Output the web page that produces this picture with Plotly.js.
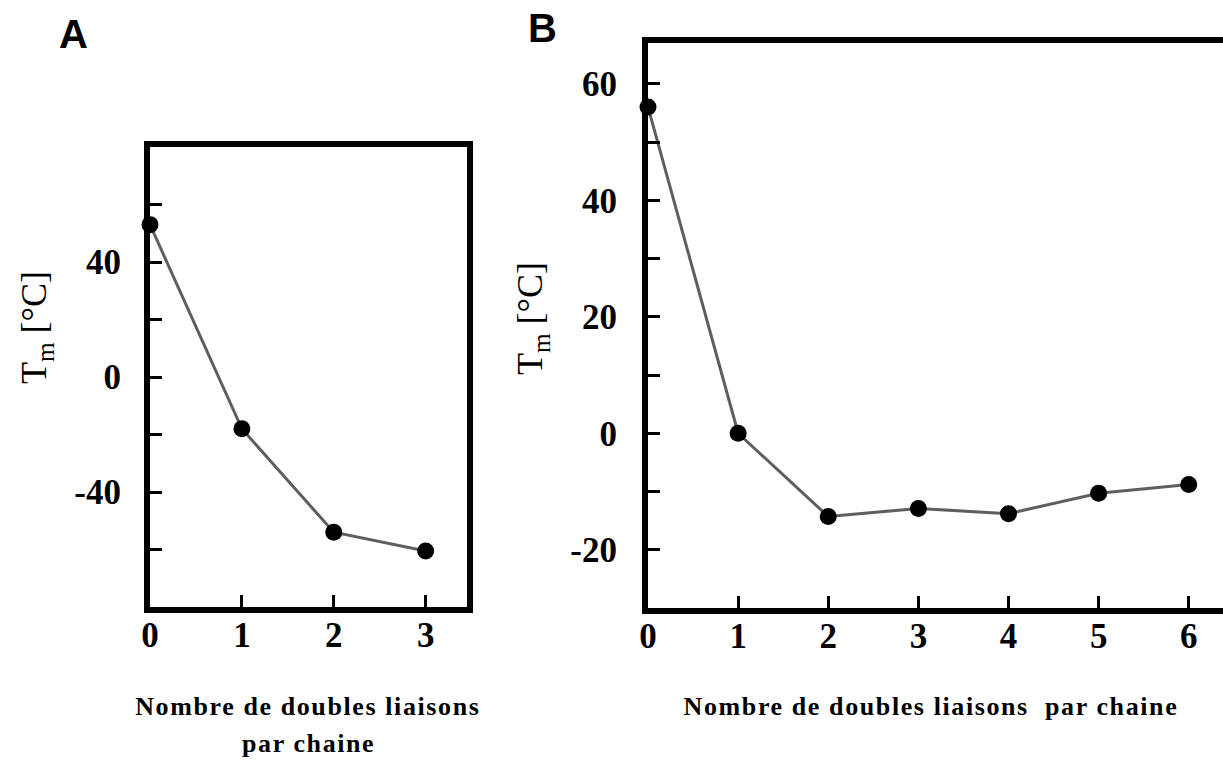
<!DOCTYPE html>
<html>
<head>
<meta charset="utf-8">
<script src="https://cdn.plot.ly/plotly-3.0.1.min.js"></script>
<style>
html,body{margin:0;padding:0;background:#fff;}
#chart{width:1223px;height:760px;}
g.annotation[data-index="2"] text, g.annotation[data-index="3"] text, g.annotation[data-index="6"] text { letter-spacing: 1.6px; }
</style>
</head>
<body>
<div id="chart"></div>
<script>
// Panel A data
const xA = [0, 1, 2, 3];
const yA = [53, -18, -54, -60.5];
// Panel B data
const xB = [0, 1, 2, 3, 4, 5, 6];
const yB = [56, 0, -14.3, -12.9, -13.8, -10.3, -8.8];

// Tick labels
const yTickValsA = [-40, 0, 40];
const yTickTextA = ['-40', '0', '40'];
const yTickValsB = [-20, 0, 20, 40, 60];
const yTickTextB = ['-20', '0', '20', '40', '60'];
const xTickValsA = [0, 1, 2, 3];
const xTickValsB = [0, 1, 2, 3, 4, 5, 6];

const xTitle1 = 'Nombre de doubles liaisons';
const xTitle2 = 'par chaine';
const xTitleB = 'Nombre de doubles liaisons  par chaine';
const yTitle = 'T<sub>m</sub> [°C]';

const W = 1223, H = 760;
const px = v => v / W;
const py = v => 1 - v / H;

const serif = 'Liberation Serif, Times New Roman, serif';
const tickFont = {family: serif, size: 35, color: '#000', weight: 'bold'};

const lineStyle = {color: '#5e5e5e', width: 3};
const markerStyle = {color: '#000', size: 17};

const traces = [
  {x: xA, y: yA, xaxis: 'x', yaxis: 'y', mode: 'lines+markers', line: lineStyle, marker: markerStyle, cliponaxis: false, showlegend: false, hoverinfo: 'none'},
  {x: xB, y: yB, xaxis: 'x2', yaxis: 'y2', mode: 'lines+markers', line: lineStyle, marker: markerStyle, cliponaxis: false, showlegend: false, hoverinfo: 'none'}
];

const axisCommon = {
  showline: true, linecolor: '#000', linewidth: 6,
  showgrid: false, zeroline: false,
  ticks: 'inside', ticklen: 12, tickwidth: 3, tickcolor: '#000',
  tickfont: tickFont, fixedrange: true
};
const minorY = {ticks: 'inside', ticklen: 12, tickwidth: 3, tickcolor: '#000', showgrid: false};

const layout = {
  width: W, height: H,
  margin: {l: 0, r: 0, t: 0, b: 0},
  paper_bgcolor: '#fff', plot_bgcolor: '#fff',
  showlegend: false,
  xaxis: Object.assign({}, axisCommon, {
    domain: [px(150), px(467)], range: [0, 3.45],
    tickmode: 'array', tickvals: xTickValsA, ticktext: xTickValsA.map(String),
    mirror: true, anchor: 'y', ticklabelstandoff: -8
  }),
  yaxis: Object.assign({}, axisCommon, {
    domain: [py(607), py(147)], range: [-80, 80],
    tickmode: 'array', tickvals: yTickValsA, ticktext: yTickTextA,
    minor: Object.assign({tick0: 0, dtick: 20}, minorY),
    mirror: true, anchor: 'x', ticklabelstandoff: 16
  }),
  xaxis2: Object.assign({}, axisCommon, {
    domain: [px(648), 1], range: [0, 6.38],
    tickmode: 'array', tickvals: xTickValsB, ticktext: xTickValsB.map(String),
    mirror: true, anchor: 'y2', ticklabelstandoff: -8
  }),
  yaxis2: Object.assign({}, axisCommon, {
    domain: [py(608), py(43)], range: [-30, 67],
    tickmode: 'array', tickvals: yTickValsB, ticktext: yTickTextB,
    minor: Object.assign({tick0: 0, dtick: 10}, minorY),
    mirror: false, anchor: 'x2', ticklabelstandoff: 18
  }),
  annotations: [
    {text: 'A', xref: 'paper', yref: 'paper', x: px(73), y: py(34), xanchor: 'center', yanchor: 'middle', showarrow: false,
     font: {family: 'Liberation Sans, Arial, sans-serif', size: 40, color: '#000', weight: 'bold'}},
    {text: 'B', xref: 'paper', yref: 'paper', x: px(542), y: py(28), xanchor: 'center', yanchor: 'middle', showarrow: false,
     font: {family: 'Liberation Sans, Arial, sans-serif', size: 40, color: '#000', weight: 'bold'}},
    {text: xTitle1, xref: 'paper', yref: 'paper', x: px(308), y: py(706), xanchor: 'center', yanchor: 'middle', showarrow: false,
     font: {family: serif, size: 26, color: '#000', weight: 'bold'}},
    {text: xTitle2, xref: 'paper', yref: 'paper', x: px(308), y: py(743), xanchor: 'center', yanchor: 'middle', showarrow: false,
     font: {family: serif, size: 26, color: '#000', weight: 'bold'}},
    {text: yTitle, xref: 'paper', yref: 'paper', x: px(36), y: py(328), xanchor: 'center', yanchor: 'middle', showarrow: false, textangle: -90,
     font: {family: serif, size: 36, color: '#000'}},
    {text: yTitle, xref: 'paper', yref: 'paper', x: px(532), y: py(319), xanchor: 'center', yanchor: 'middle', showarrow: false, textangle: -90,
     font: {family: serif, size: 36, color: '#000'}},
    {text: xTitleB, xref: 'paper', yref: 'paper', x: px(931), y: py(706), xanchor: 'center', yanchor: 'middle', showarrow: false,
     font: {family: serif, size: 26, color: '#000', weight: 'bold'}}
  ]
};

Plotly.newPlot('chart', traces, layout, {staticPlot: true, displayModeBar: false});
</script>
</body>
</html>
